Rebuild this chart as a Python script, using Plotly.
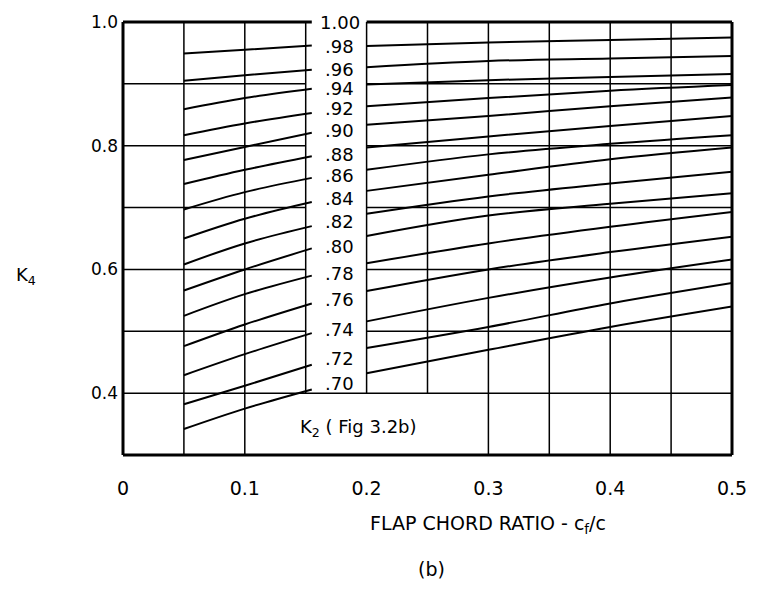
import plotly.graph_objects as go

# ---- data ----
k2_labels = ["1.00", ".98", ".96", ".94", ".92", ".90", ".88", ".86",
             ".84", ".82", ".80", ".78", ".76", ".74", ".72", ".70"]
# vertical position (in K4 units) of each label in the middle column
k2_label_y = [1.000, 0.960, 0.924, 0.892, 0.860, 0.824, 0.785, 0.752,
              0.715, 0.678, 0.637, 0.594, 0.552, 0.503, 0.456, 0.416]

# left family (x = 0.05 .. 0.155)
x_left = [0.05, 0.1, 0.155]
left_vals = [
    [0.949, 0.955, 0.962],  # .98
    [0.905, 0.914, 0.923],  # .96
    [0.859, 0.877, 0.892],  # .94
    [0.817, 0.836, 0.853],  # .92
    [0.777, 0.798, 0.821],  # .90
    [0.738, 0.761, 0.783],  # .88
    [0.697, 0.725, 0.748],  # .86
    [0.650, 0.682, 0.709],  # .84
    [0.608, 0.642, 0.670],  # .82
    [0.566, 0.600, 0.634],  # .80
    [0.525, 0.560, 0.590],  # .78
    [0.476, 0.511, 0.545],  # .76
    [0.429, 0.463, 0.497],  # .74
    [0.382, 0.412, 0.446],  # .72
    [0.342, 0.375, 0.406],  # .70
]

# right family (x = 0.2 .. 0.5)
x_right = [0.2, 0.3, 0.4, 0.5]
right_vals = [
    [0.961, 0.967, 0.971, 0.975],  # .98
    [0.927, 0.937, 0.941, 0.945],  # .96
    [0.899, 0.906, 0.911, 0.916],  # .94
    [0.864, 0.877, 0.889, 0.898],  # .92
    [0.834, 0.848, 0.864, 0.878],  # .90
    [0.797, 0.815, 0.832, 0.848],  # .88
    [0.761, 0.786, 0.803, 0.817],  # .86
    [0.727, 0.753, 0.778, 0.797],  # .84
    [0.690, 0.718, 0.739, 0.758],  # .82
    [0.654, 0.687, 0.706, 0.723],  # .80
    [0.610, 0.642, 0.669, 0.693],  # .78
    [0.565, 0.600, 0.628, 0.653],  # .76
    [0.516, 0.554, 0.587, 0.616],  # .74
    [0.473, 0.507, 0.545, 0.578],  # .72
    [0.432, 0.470, 0.507, 0.540],  # .70
]

x_ticks = [0, 0.1, 0.2, 0.3, 0.4, 0.5]
x_ticktext = ["0", "0.1", "0.2", "0.3", "0.4", "0.5"]
y_ticks = [0.4, 0.6, 0.8, 1.0]
y_ticktext = ["0.4", "0.6", "0.8", "1.0"]

grid_v = [0.05, 0.1, 0.15, 0.2, 0.25, 0.3, 0.35, 0.4, 0.45]
grid_h = [0.4, 0.5, 0.6, 0.7, 0.8, 0.9]

x_range = [0.0, 0.5]
y_range = [0.3, 1.0]
label_box_x = [0.15, 0.2]      # column holding the K2 labels
label_box_y = [0.4, 1.0]
k2_note_x_end = 0.25           # grid lines up to here stop at 0.4 (note area)

FONT = "DejaVu Sans"
INK = "black"

fig = go.Figure()

# ---- grid lines (with gaps for the label column and the note) ----
gx, gy = [], []
for xv in grid_v:
    y0 = label_box_y[0] if label_box_x[0] <= xv <= k2_note_x_end else y_range[0]
    gx += [xv, xv, None]
    gy += [y0, y_range[1], None]
for yv in grid_h:
    if yv <= label_box_y[0]:
        gx += [x_range[0], x_range[1], None]
        gy += [yv, yv, None]
    else:
        gx += [x_range[0], label_box_x[0], None, label_box_x[1], x_range[1], None]
        gy += [yv, yv, None, yv, yv, None]
fig.add_trace(go.Scatter(x=gx, y=gy, mode="lines",
                         line=dict(color=INK, width=1.5),
                         hoverinfo="skip", showlegend=False))

# ---- curves ----
for i in range(len(left_vals)):
    fig.add_trace(go.Scatter(x=x_left, y=left_vals[i], mode="lines",
                             line=dict(color=INK, width=2, shape="spline"),
                             name=k2_labels[i + 1], showlegend=False))
    fig.add_trace(go.Scatter(x=x_right, y=right_vals[i], mode="lines",
                             line=dict(color=INK, width=2, shape="spline"),
                             name=k2_labels[i + 1], showlegend=False))

# ---- border (top broken by the "1.00" label) ----
span = x_range[1] - x_range[0]
gap0 = (x_left[-1] - x_range[0]) / span
gap1 = (label_box_x[1] - x_range[0]) / span
border = [
    (0, 0, 0, 1), (1, 0, 1, 1), (0, 0, 1, 0),
    (0, 1, gap0, 1), (gap1, 1, 1, 1),
]
shapes = [dict(type="line", xref="paper", yref="paper", x0=a, y0=b, x1=c, y1=d,
               line=dict(color=INK, width=3)) for a, b, c, d in border]

# ---- K2 labels in the middle column ----
annotations = []
label_x = (label_box_x[0] + label_box_x[1]) / 2 + 0.003
for txt, ly in zip(k2_labels, k2_label_y):
    annotations.append(dict(x=label_x, y=ly, xref="x", yref="y",
                            text=txt, showarrow=False,
                            xanchor="center", yanchor="middle",
                            font=dict(family=FONT, size=18, color=INK)))

annotations += [
    dict(x=0.193, y=0.344, xref="x", yref="y", text="K<sub>2</sub> ( Fig 3.2b)",
         showarrow=False, xanchor="center", yanchor="middle",
         font=dict(family=FONT, size=18, color=INK)),
    dict(x=-0.159, y=0.59, xref="paper", yref="y", text="K<sub>4</sub>",
         showarrow=False, xanchor="center", yanchor="middle",
         font=dict(family=FONT, size=18, color=INK)),
    dict(x=0.3, y=-0.161, xref="x", yref="paper",
         text="FLAP CHORD RATIO - c<sub>f</sub>/c",
         showarrow=False, xanchor="center", yanchor="middle",
         font=dict(family=FONT, size=19, color=INK)),
    dict(x=0.253, y=-0.264, xref="x", yref="paper", text="(b)",
         showarrow=False, xanchor="center", yanchor="middle",
         font=dict(family=FONT, size=19, color=INK)),
]

fig.update_layout(
    width=759, height=592,
    margin=dict(l=123, r=20, t=20, b=137),
    paper_bgcolor="white", plot_bgcolor="white",
    shapes=shapes, annotations=annotations,
    xaxis=dict(range=x_range, tickvals=x_ticks, ticktext=x_ticktext,
               showgrid=False, zeroline=False, showline=False, ticks="",
               ticklabelstandoff=20,
               tickfont=dict(family=FONT, size=19, color=INK)),
    yaxis=dict(range=y_range, tickvals=y_ticks, ticktext=y_ticktext,
               showgrid=False, zeroline=False, showline=False, ticks="",
               ticklabelstandoff=4,
               tickfont=dict(family=FONT, size=17, color=INK)),
)

fig.write_html("out.html")
